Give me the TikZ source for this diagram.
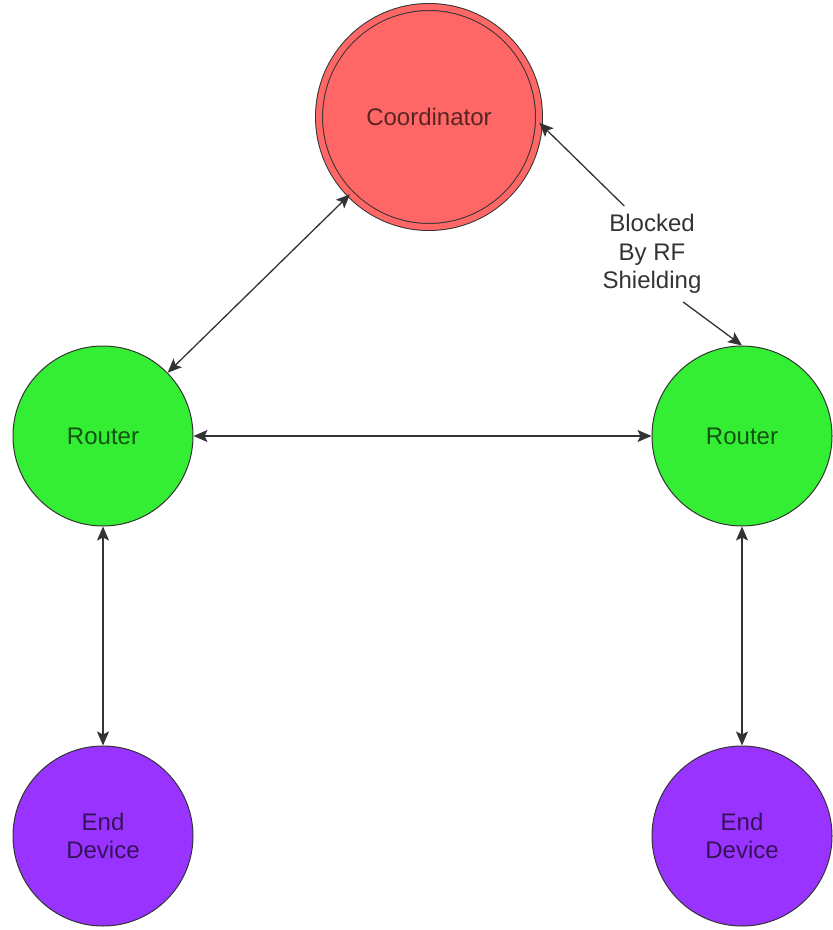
\documentclass[tikz,border=0pt]{standalone}
\usepackage{fontspec}
\setmainfont{Liberation Sans}
\usetikzlibrary{arrows.meta, positioning, shapes.geometric}
\definecolor{rojoCoord}{HTML}{FF6666}
\definecolor{verdeRouter}{HTML}{33EE33}
\definecolor{moradoFinal}{HTML}{9933FF}
\definecolor{grisLinea}{HTML}{333333}
\colorlet{textoCoord}{rojoCoord!35!black}
\colorlet{textoRouter}{verdeRouter!35!black}
\colorlet{textoFinal}{moradoFinal!35!black}
\tikzset{
  circuloBase/.style={
    circle, draw=black!80, line width=0.5pt,
    align=center, font=\fontsize{12}{14}\selectfont, inner sep=0pt
  },
  circuloCoord/.style={circuloBase, fill=rojoCoord, text=textoCoord,
    double=rojoCoord, double distance=3pt, minimum size=110pt},
  circuloRouter/.style={circuloBase, fill=verdeRouter, text=textoRouter,
    minimum size=90pt},
  circuloFinal/.style={circuloBase, fill=moradoFinal, text=textoFinal,
    minimum size=90pt},
  flecha/.style={-{Stealth[length=7pt, width=6pt, inset=1.5pt]},
    line width=0.65pt, grisLinea},
  flechaDoble/.style={{Stealth[length=7pt, width=6pt, inset=1.5pt]}-{Stealth[length=7pt, width=6pt, inset=1.5pt]},
    line width=0.65pt, grisLinea},
  etiquetaFlecha/.style={font=\fontsize{12}{14.2}\selectfont, text=grisLinea,
    align=center, inner sep=4pt},
}
\begin{document}
\begin{tikzpicture}[x=0.5pt, y=-0.5pt]
    \useasboundingbox (0,0) rectangle (833,930);
    \node[circuloCoord] (coord) at (429,117) {Coordinator};
    \node[circuloRouter] (routerIzq) at (103,436) {Router};
    \node[circuloRouter] (routerDer) at (742,436) {Router};
    \node[circuloFinal] (finIzq) at (103,836) {End\\Device};
    \node[circuloFinal] (finDer) at (742,836) {End\\Device};
    \node[etiquetaFlecha] (bloqueo) at (652,254) {Blocked\\By RF\\Shielding};
    \draw[flechaDoble] (coord) -- (routerIzq);
    \draw[flecha] (bloqueo.120) -- (coord.-3);
    \draw[flecha] (bloqueo.-57) -- (routerDer.north);
    \draw[flechaDoble] (routerIzq) -- (routerDer);
    \draw[flechaDoble] (routerIzq) -- (finIzq);
    \draw[flechaDoble] (routerDer) -- (finDer);
  \end{tikzpicture}
\end{document}
